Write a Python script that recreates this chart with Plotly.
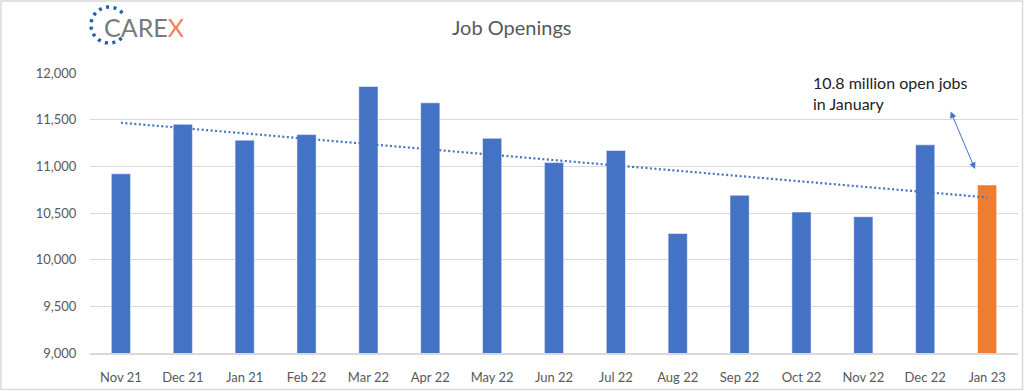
import numpy as np
import plotly.graph_objects as go

categories = ["Nov 21", "Dec 21", "Jan 21", "Feb 22", "Mar 22", "Apr 22", "May 22",
              "Jun 22", "Jul 22", "Aug 22", "Sep 22", "Oct 22", "Nov 22", "Dec 22", "Jan 23"]
openings = [10920, 11450, 11280, 11340, 11855, 11680, 11300,
            11040, 11170, 10280, 10690, 10510, 10460, 11230, 10800]
y_ticks = [9000, 9500, 10000, 10500, 11000, 11500, 12000]

BLUE = "#4472C4"
ORANGE = "#ED7D31"
GREY = "#595959"
FONT = "Lato"

W, H = 1024, 391
ML, MR, MT, MB = 90, 6, 73, 38
PW, PH = W - ML - MR, H - MT - MB

colors = [BLUE] * (len(categories) - 1) + [ORANGE]

idx = np.arange(len(openings))
slope, intercept = np.polyfit(idx, openings, 1)
trend = slope * idx + intercept

fig = go.Figure()
fig.add_trace(go.Bar(
    x=categories, y=openings, marker=dict(color=colors, line=dict(color="rgba(255,255,255,0.5)", width=1)),
    showlegend=False, hoverinfo="x+y"))
fig.add_trace(go.Scatter(
    x=categories, y=trend, mode="lines",
    line=dict(color=BLUE, width=2.2, dash="2px,2.5px"), showlegend=False, hoverinfo="skip"))

def px_x(p):
    return (p - ML) / PW

def px_y(p):
    return (H - MB - p) / PH

# logo dotted arc
r = 18
pts = []
for a in np.linspace(np.radians(42), np.radians(318), 60):
    pts.append((r * np.cos(a), r * np.sin(a)))
path = "M " + " L ".join(f"{x:.2f},{y:.2f}" for x, y in pts)

shapes = [
    dict(type="path", xref="paper", yref="paper", xsizemode="pixel", ysizemode="pixel",
         xanchor=px_x(109), yanchor=px_y(25), path=path,
         line=dict(color="#1F5FAD", width=3.5, dash="3px,4.5px")),
    dict(type="rect", xref="paper", yref="paper", x0=px_x(1), x1=px_x(1022.5), y0=px_y(389.5), y1=px_y(1),
         line=dict(color="#d9d9d9", width=1.5), layer="below"),
]

annotations = [
    dict(text="Job Openings", x=px_x(512), y=px_y(27), xref="paper", yref="paper",
         showarrow=False, font=dict(family=FONT, size=20, color=GREY), xanchor="center", yanchor="middle"),
    dict(text="CARE<span style='color:#F08458'>X</span>", x=px_x(102), y=px_y(27), xref="paper", yref="paper",
         showarrow=False, font=dict(family=FONT, size=25, color="#7a7a7a"), xanchor="left", yanchor="middle"),
    dict(text="10.8 million open jobs<br>in January", x=px_x(811), y=px_y(71), xref="paper", yref="paper",
         showarrow=False, align="left", font=dict(family=FONT, size=16, color="#222"),
         xanchor="left", yanchor="top"),
    dict(x=px_x(975), y=px_y(169), ax=-25, ay=-59, xref="paper", yref="paper",
         axref="pixel", ayref="pixel", text="", showarrow=True, arrowhead=2, startarrowhead=2,
         arrowside="end+start", arrowsize=1.3, startarrowsize=1.3, arrowwidth=1, arrowcolor=BLUE),
]

fig.update_layout(
    width=W, height=H, margin=dict(l=ML, r=MR, t=MT, b=MB),
    paper_bgcolor="white", plot_bgcolor="white",
    bargap=0.69, shapes=shapes, annotations=annotations,
    font=dict(family=FONT, color=GREY, size=13),
    xaxis=dict(showgrid=False, showline=True, linecolor="#d9d9d9", linewidth=1.5,
               ticks="outside", ticklen=12, tickcolor="rgba(0,0,0,0)",
               tickfont=dict(size=13, color=GREY)),
    yaxis=dict(range=[9000, 12000], tickvals=y_ticks, tickformat=",d", showgrid=True,
               gridcolor="#d9d9d9", gridwidth=1.2, zeroline=False, showline=False,
               ticks="outside", ticklen=10, tickcolor="rgba(0,0,0,0)", tickfont=dict(size=13, color=GREY)),
)

fig.write_html("out.html", config={"displayModeBar": False},
               post_script="document.body.style.margin='0';document.body.style.overflow='hidden';")
